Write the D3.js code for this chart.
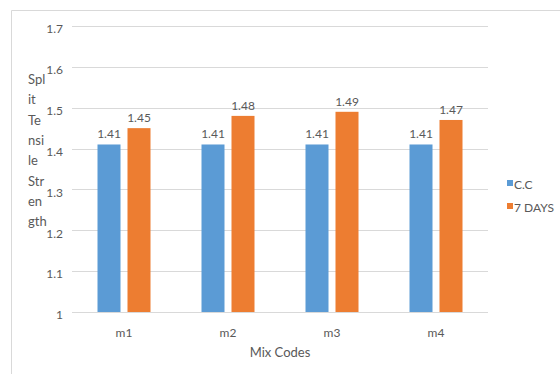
<!DOCTYPE html>
<html>
<head>
<meta charset="utf-8">
<script src="https://cdn.jsdelivr.net/npm/d3@7"></script>
<style>
  html, body { margin: 0; padding: 0; background: #fff; }
  svg { display: block; font-family: Lato, "Open Sans", sans-serif; }
</style>
</head>
<body>
<svg id="chart" width="560" height="374"></svg>
<script>
// Split tensile strength by mix code
const categories = ["m1", "m2", "m3", "m4"];
const seriesNames = ["C.C", "7 DAYS"];
const ccValues = [1.41, 1.41, 1.41, 1.41];
const sevenDayValues = [1.45, 1.48, 1.49, 1.47];
const yTicks = [1, 1.1, 1.2, 1.3, 1.4, 1.5, 1.6, 1.7];
const yTitleLines = ["Spl", "it", "Te", "nsi", "le", "Str", "en", "gth"];
const xTitle = "Mix Codes";

const colors = { "C.C": "#5B9BD5", "7 DAYS": "#ED7D31" };
const textColor = "#595959";
const gridColor = "#d9d9d9";

const svg = d3.select("#chart");

// Chart area frame (top and left edges)
svg.append("path")
  .attr("d", "M11.5,374 V10.5 H560")
  .attr("fill", "none")
  .attr("stroke", gridColor)
  .attr("stroke-width", 1);

const plot = { left: 72, right: 488, top: 26, bottom: 312 };

const y = d3.scaleLinear().domain([1, 1.7]).range([plot.bottom, plot.top]);
const x0 = d3.scaleBand().domain(categories).range([plot.left, plot.right]).padding(0);
const groupWidth = 53;
const x1 = d3.scaleBand().domain(seriesNames)
  .range([(x0.bandwidth() - groupWidth) / 2, (x0.bandwidth() + groupWidth) / 2])
  .paddingInner(0.2333).paddingOuter(0);

// Gridlines
svg.append("g")
  .selectAll("line")
  .data(yTicks)
  .join("line")
  .attr("x1", plot.left)
  .attr("x2", plot.right)
  .attr("y1", d => Math.round(y(d)) + 0.5)
  .attr("y2", d => Math.round(y(d)) + 0.5)
  .attr("stroke", gridColor)
  .attr("stroke-width", 1);

// Y axis tick labels
const yAxis = d3.axisLeft(y).tickValues(yTicks).tickSize(0).tickPadding(0)
  .tickFormat(d => d3.format("")(+d.toFixed(1)));
const yg = svg.append("g").attr("transform", `translate(${plot.left - 9},3)`).call(yAxis);
yg.select(".domain").remove();
yg.selectAll("text").attr("fill", textColor).style("font-size", "12px").style("font-family", "Lato, 'Open Sans', sans-serif");

// X axis labels
const xAxis = d3.axisBottom(x0).tickSize(0).tickPadding(0);
const xg = svg.append("g").attr("transform", `translate(0,${plot.bottom + 16})`).call(xAxis);
xg.select(".domain").remove();
xg.selectAll("text").attr("fill", textColor).style("font-size", "12px").style("font-family", "Lato, 'Open Sans', sans-serif");

// Bars
const rows = categories.map((c, i) => ({
  category: c,
  values: [
    { series: "C.C", value: ccValues[i] },
    { series: "7 DAYS", value: sevenDayValues[i] }
  ]
}));

const groups = svg.append("g")
  .selectAll("g")
  .data(rows)
  .join("g")
  .attr("transform", d => `translate(${x0(d.category)},0)`);

groups.selectAll("rect")
  .data(d => d.values)
  .join("rect")
  .attr("x", d => x1(d.series))
  .attr("width", x1.bandwidth())
  .attr("y", d => y(d.value))
  .attr("height", d => y(1) - y(d.value))
  .attr("fill", d => colors[d.series]);

// Value labels
groups.selectAll("text")
  .data(d => d.values)
  .join("text")
  .attr("x", d => x1(d.series) + x1.bandwidth() / 2)
  .attr("y", d => y(d.value) - 6)
  .attr("text-anchor", "middle")
  .attr("fill", textColor)
  .style("font-size", "12px")
  .text(d => d.value.toFixed(2));

// Y axis title, wrapped into short lines
svg.append("text")
  .attr("x", 28)
  .attr("y", 84)
  .attr("fill", textColor)
  .style("font-size", "13px")
  .selectAll("tspan")
  .data(yTitleLines)
  .join("tspan")
  .attr("x", 28)
  .attr("dy", (d, i) => i === 0 ? 0 : 20.3)
  .text(d => d);

// X axis title
svg.append("text")
  .attr("x", (plot.left + plot.right) / 2)
  .attr("y", 357)
  .attr("text-anchor", "middle")
  .attr("fill", textColor)
  .style("font-size", "13px")
  .text(xTitle);

// Legend
const legend = svg.append("g")
  .selectAll("g")
  .data(seriesNames)
  .join("g")
  .attr("transform", (d, i) => `translate(507,${180 + i * 23})`);

legend.append("rect")
  .attr("width", 6)
  .attr("height", 6)
  .attr("fill", d => colors[d]);

legend.append("text")
  .attr("x", 7)
  .attr("y", 9)
  .attr("fill", textColor)
  .style("font-size", "12px")
  .text(d => d);
</script>
</body>
</html>
